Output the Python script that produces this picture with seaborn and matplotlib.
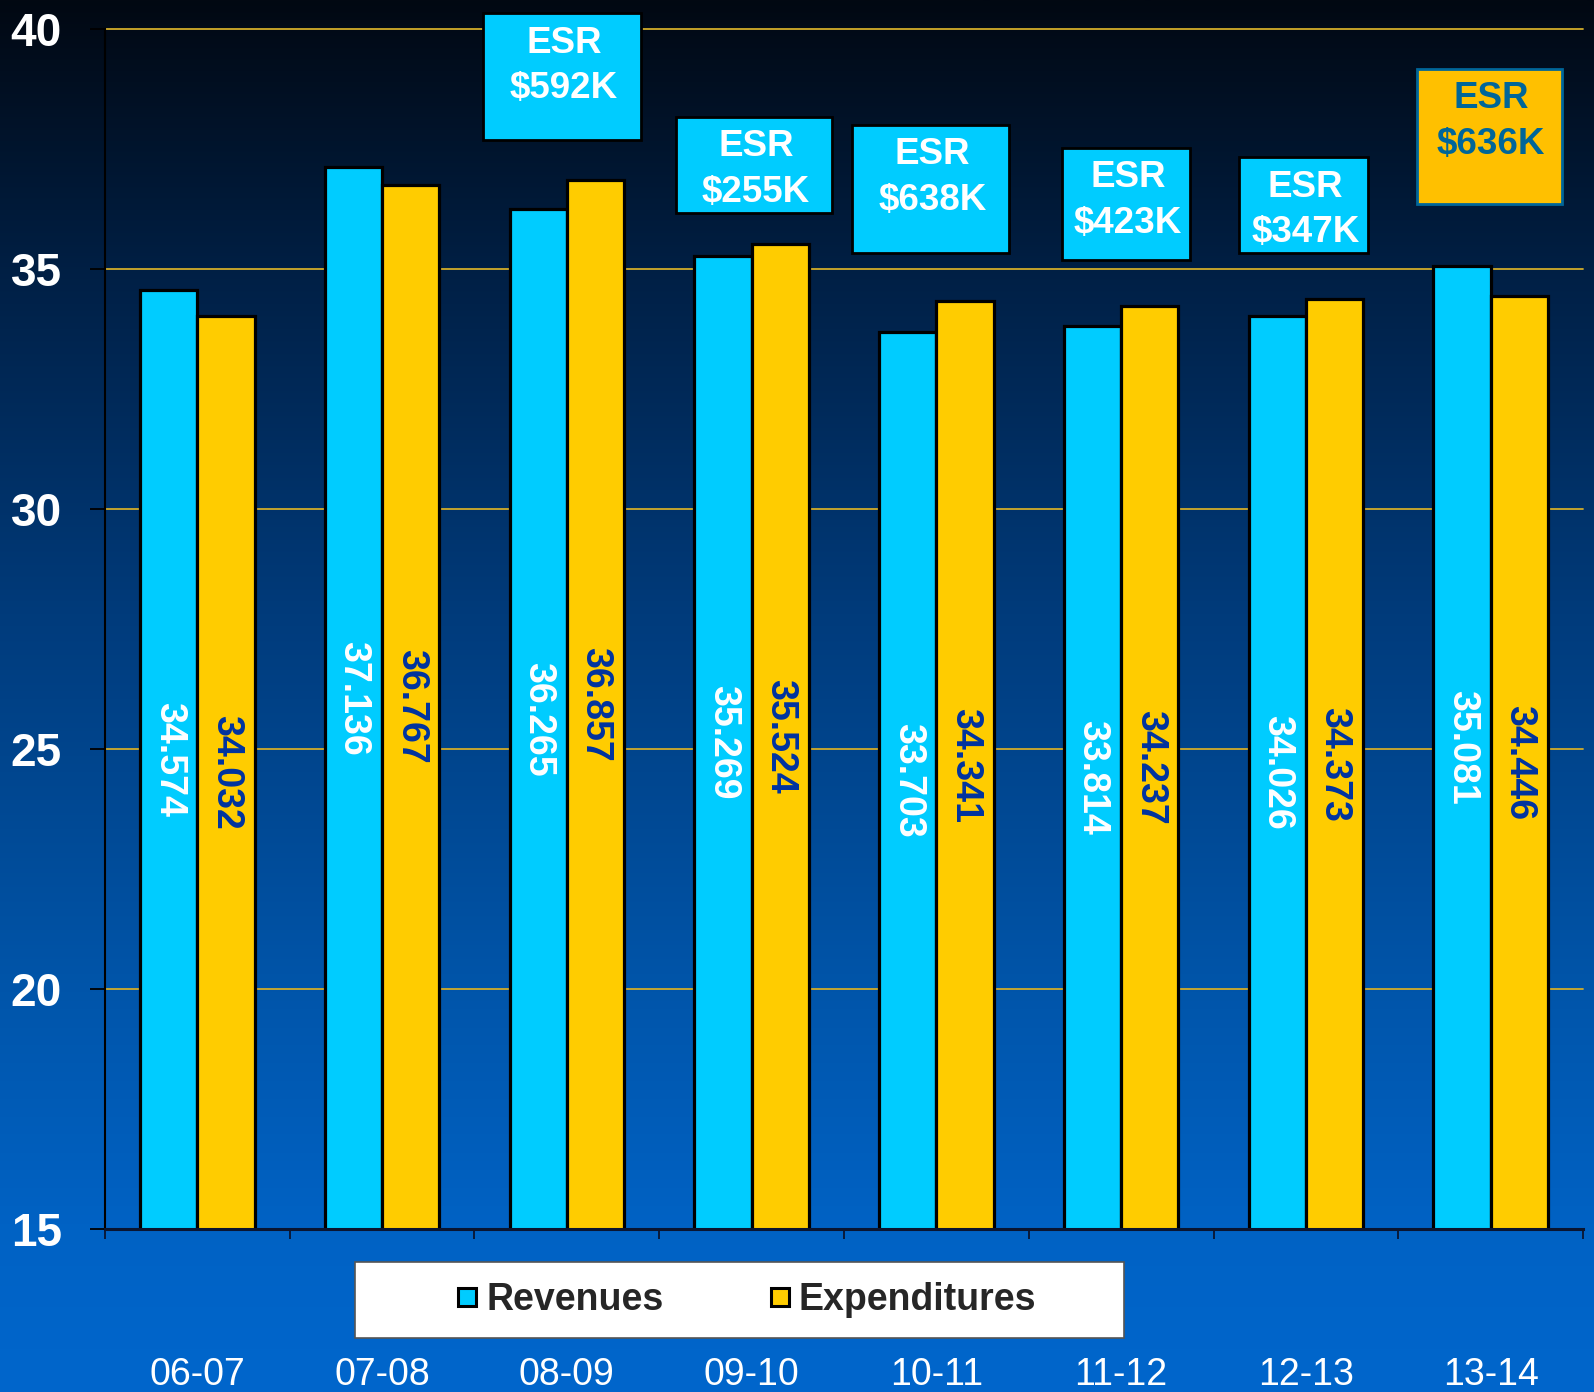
import numpy as np
import pandas as pd
import matplotlib
matplotlib.use("Agg")
import matplotlib.pyplot as plt
import matplotlib.font_manager as fm
from matplotlib.patches import Rectangle
from matplotlib.lines import Line2D
import seaborn as sns

# ---------------- data ----------------
years = ["06-07", "07-08", "08-09", "09-10", "10-11", "11-12", "12-13", "13-14"]
revenues = [34.574, 37.136, 36.265, 35.269, 33.703, 33.814, 34.026, 35.081]
expenditures = [34.032, 36.767, 36.857, 35.524, 34.341, 34.237, 34.373, 34.446]
series_names = ["Revenues", "Expenditures"]
y_ticks = [15, 20, 25, 30, 35, 40]

esr_years = ["08-09", "09-10", "10-11", "11-12", "12-13", "13-14"]
esr_labels = ["$592K", "$255K", "$638K", "$423K", "$347K", "$636K"]

# --------------- styling / layout ---------------
sns.set_theme(style="white")
names = {f.name for f in fm.fontManager.ttflist}
base_font = "Liberation Sans" if "Liberation Sans" in names else "DejaVu Sans"
narrow_font = "Liberation Sans Narrow" if "Liberation Sans Narrow" in names else None
plt.rcParams["font.family"] = [base_font, "DejaVu Sans"]

CYAN = "#00CCFF"
YELLOW = "#FFCC00"
GRID = "#D2AC2A"

# ESR box layout (category units / data units): x0, x1, y_bottom, y_top
esr_box = [
    (1.546, 2.401, 37.70, 40.34),
    (2.591, 3.435, 36.18, 38.18),
    (3.543, 4.393, 35.34, 38.01),
    (4.680, 5.373, 35.20, 37.53),
    (5.638, 6.336, 35.34, 37.34),
    (6.601, 7.386, 36.36, 39.18),
]

W, H = 1594, 1392
fig = plt.figure(figsize=(W / 100, H / 100), dpi=100)

# background gradient
bg = fig.add_axes([0, 0, 1, 1], zorder=-10)
stops_y = np.array([0.0, 0.2, 0.45, 0.7, 0.88, 1.0])
stops_c = np.array([
    [2, 8, 18],
    [0, 32, 70],
    [0, 60, 125],
    [0, 84, 168],
    [0, 98, 196],
    [0, 102, 204],
]) / 255.0
t = np.linspace(0, 1, 512)
grad = np.stack([np.interp(t, stops_y, stops_c[:, k]) for k in range(3)], axis=1)
bg.imshow(grad[:, None, :], aspect="auto", extent=[0, 1, 1, 0])
bg.set_xlim(0, 1)
bg.set_ylim(1, 0)
bg.axis("off")

ax_left, ax_right = 105 / W, 1583 / W
ax_bottom, ax_top = (H - 1229) / H, (H - 29.5) / H
ax = fig.add_axes([ax_left, ax_bottom, ax_right - ax_left, ax_top - ax_bottom])
ax.set_facecolor("none")

df = pd.DataFrame({
    "year": years * 2,
    "value": revenues + expenditures,
    "series": [series_names[0]] * len(years) + [series_names[1]] * len(years),
})

sns.barplot(data=df, x="year", y="value", hue="series", order=years,
            hue_order=series_names, palette=[CYAN, YELLOW], width=0.62,
            edgecolor="black", linewidth=2.3, saturation=1, ax=ax,
            legend=False, zorder=3)

ax.set_ylim(15, 40)
ax.set_xlim(-0.5, len(years) - 0.5)
ax.set_yticks(y_ticks)
ax.set_xlabel("")
ax.set_ylabel("")

# grid
for yv in y_ticks[1:]:
    ax.axhline(yv, color=GRID, lw=1.3, zorder=1, clip_on=False)

# spines
for s in ["top", "right"]:
    ax.spines[s].set_visible(False)
ax.spines["left"].set_color("#000000")
ax.spines["left"].set_linewidth(1.5)
ax.spines["bottom"].set_color("#0A1530")
ax.spines["bottom"].set_linewidth(2.2)
ax.spines["bottom"].set_zorder(5)

ax.tick_params(axis="both", which="both", bottom=True, left=True)
ax.tick_params(axis="y", which="major", direction="out", length=11, width=1.3,
               color="#000000", pad=20, labelsize=33, labelcolor="white")
for lab in ax.get_yticklabels():
    lab.set_fontweight("bold")
ax.set_xticks(np.arange(len(years)))
ax.set_xticklabels(years)
ax.tick_params(axis="x", which="major", length=0, pad=92, labelsize=27,
               labelcolor="white")
ax.set_xticks(np.arange(-0.5, len(years)), minor=True)
ax.tick_params(axis="x", which="minor", direction="out", length=7, width=1.3,
               color="#0A1530")

# value labels inside bars
label_colors = ["white", "#0033A0"]
for cont, vals, col in zip(ax.containers, [revenues, expenditures], label_colors):
    for bar, v in zip(cont, vals):
        xc = bar.get_x() + bar.get_width() / 2
        ax.text(xc, (15 + v) / 2, f"{v:.3f}", rotation=270, ha="center",
                va="center", fontsize=27, fontweight="bold", color=col,
                zorder=6, rotation_mode="anchor")

# ESR boxes
for i, (yr, lab, (x0, x1, y0, y1)) in enumerate(zip(esr_years, esr_labels, esr_box)):
    last = i == len(esr_years) - 1
    fc = "#FFC000" if last else CYAN
    ec = "#006699" if last else "#000000"
    tc = "#006699" if last else "white"
    ax.add_patch(Rectangle((x0, y0), x1 - x0, y1 - y0, facecolor=fc,
                           edgecolor=ec, lw=2, zorder=7, clip_on=False))
    ax.text((x0 + x1) / 2 + 0.01, y1 - 0.26, "ESR\n" + lab, ha="center", va="top",
            fontsize=26.5, fontweight="bold", color=tc, linespacing=1.38,
            zorder=8, clip_on=False)

# legend box
lx0, lx1 = 355 / W, 1124 / W
ly0, ly1 = (H - 1338) / H, (H - 1262) / H
fig.patches.append(Rectangle((lx0, ly0), lx1 - lx0, ly1 - ly0,
                             transform=fig.transFigure, facecolor="white",
                             edgecolor="#555555", lw=1.2, zorder=1))
handles = [Line2D([], [], marker="s", linestyle="none", markersize=13,
                  markerfacecolor=c, markeredgecolor="black", markeredgewidth=2.2)
           for c in [CYAN, YELLOW]]
if narrow_font:
    lprop = fm.FontProperties(family=narrow_font, weight="bold", size=33)
    colsp = 2.3
else:
    lprop = fm.FontProperties(family=base_font, weight="bold", size=27)
    colsp = 2.8
leg = fig.legend(handles, series_names, loc="center",
                 bbox_to_anchor=((lx0 + lx1) / 2 + 0.004, (ly0 + ly1) / 2),
                 bbox_transform=fig.transFigure, ncol=2, frameon=False,
                 prop=lprop, handlelength=0.6, handletextpad=0.2,
                 columnspacing=colsp)

fig.savefig("out.png", dpi=100)
